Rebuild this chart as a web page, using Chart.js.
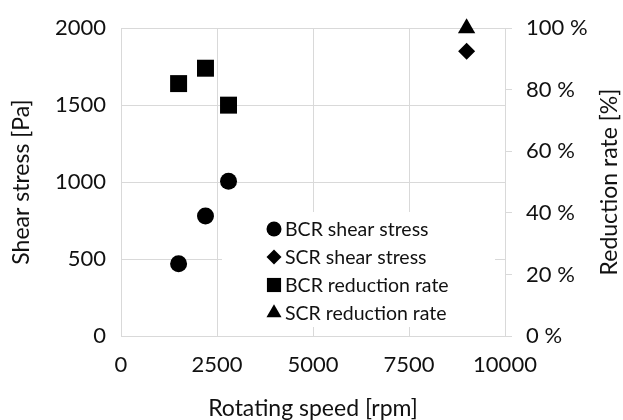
<!DOCTYPE html>
<html>
<head>
<meta charset="utf-8">
<script src="https://cdn.jsdelivr.net/npm/chart.js@4"></script>
<style>
  html, body { margin: 0; padding: 0; background: #fff; }
  #wrap { width: 623px; height: 420px; }
</style>
</head>
<body>
<div id="wrap"><canvas id="myChart" width="623" height="420"></canvas></div>
<script>
// valores
const bcrSpeed = [1500, 2200, 2800];
const bcrShear = [470, 780, 1005];
const bcrReduction = [82, 87, 75];
const scrSpeed = [9000];
const scrShear = [1850];
const scrReduction = [100];
const seriesNames = ['BCR shear stress', 'SCR shear stress', 'BCR reduction rate', 'SCR reduction rate'];
const xTitle = 'Rotating speed [rpm]';
const yTitle = 'Shear stress [Pa]';
const y2Title = 'Reduction rate [%]';

const fuente = 'Lato';
const colorTexto = '#111';
const colorGrilla = '#d9d9d9';

function puntos(xs, ys) {
    return xs.map(function (x, i) { return { x: x, y: ys[i] }; });
}

function sinComa(v) { return String(v); }

// leyenda dentro del area + titulo derecho (leido de abajo hacia arriba)
const leyendaPlugin = {
    id: 'leyendaPlugin',
    afterDatasetsDraw: function (chart) {
        const ctx = chart.ctx;
        ctx.save();
        ctx.fillStyle = '#fff';
        ctx.fillRect(222, 212, 273, 115);

        const marcas = [
            { pointStyle: 'circle', radius: 7.5 },
            { pointStyle: 'rectRot', radius: 7.5 },
            { pointStyle: 'rect', radius: 10 },
            { pointStyle: 'triangle', radius: 8.7 }
        ];
        ctx.font = '19.5px ' + fuente;
        ctx.textBaseline = 'middle';
        ctx.textAlign = 'left';
        seriesNames.forEach(function (nombre, i) {
            const y = 229 + i * 28;
            ctx.fillStyle = '#000';
            Chart.helpers.drawPoint(ctx, { pointStyle: marcas[i].pointStyle, radius: marcas[i].radius, rotation: 0, borderWidth: 0 }, 274, y);
            ctx.fillStyle = colorTexto;
            ctx.fillText(nombre, 285, y + 1);
        });

        const area = chart.chartArea;
        ctx.translate(610, (area.top + area.bottom) / 2);
        ctx.rotate(-Math.PI / 2);
        ctx.textAlign = 'center';
        ctx.font = '23px ' + fuente;
        ctx.fillText(y2Title, 0, 0);
        ctx.restore();
    }
};

const ctx = document.getElementById('myChart');
const myChart = new Chart(ctx, {
    type: 'scatter',
    data: {
        datasets: [{
            label: seriesNames[0],
            data: puntos(bcrSpeed, bcrShear),
            yAxisID: 'y',
            pointStyle: 'circle',
            pointRadius: 8.5
        }, {
            label: seriesNames[1],
            data: puntos(scrSpeed, scrShear),
            yAxisID: 'y',
            pointStyle: 'rectRot',
            pointRadius: 8.5
        }, {
            label: seriesNames[2],
            data: puntos(bcrSpeed, bcrReduction),
            yAxisID: 'y2',
            pointStyle: 'rect',
            pointRadius: 12
        }, {
            label: seriesNames[3],
            data: puntos(scrSpeed, scrReduction),
            yAxisID: 'y2',
            pointStyle: 'triangle',
            pointRadius: 10
        }]
    },
    options: {
        responsive: false,
        animation: false,
        clip: false,
        layout: { padding: { top: 26, left: 0, right: 0, bottom: 0 } },
        elements: {
            point: { backgroundColor: '#000', borderWidth: 0, hoverRadius: 0 }
        },
        plugins: {
            legend: { display: false },
            tooltip: { enabled: false }
        },
        scales: {
            x: {
                type: 'linear',
                min: 0,
                max: 10000,
                ticks: { stepSize: 2500, color: colorTexto, font: { family: fuente, size: 22 }, padding: 16, maxRotation: 0, callback: sinComa },
                grid: { color: colorGrilla, drawTicks: false },
                border: { color: colorGrilla },
                title: { display: true, text: xTitle, color: colorTexto, font: { family: fuente, size: 23 }, padding: { top: 0, bottom: -2 } },
                afterFit: function (scale) { scale.height = 84; }
            },
            y: {
                position: 'left',
                min: 0,
                max: 2000,
                ticks: { stepSize: 500, color: colorTexto, font: { family: fuente, size: 22 }, padding: 15, callback: sinComa },
                grid: { color: colorGrilla, drawTicks: false },
                border: { color: colorGrilla },
                title: { display: true, text: yTitle, color: colorTexto, font: { family: fuente, size: 23 }, padding: { top: 8, bottom: 0 } },
                afterFit: function (scale) { scale.width = 121; }
            },
            y2: {
                position: 'right',
                min: 0,
                max: 100,
                ticks: {
                    stepSize: 20, color: colorTexto, font: { family: fuente, size: 22 }, padding: 14,
                    callback: function (v) { return v + ' %'; }
                },
                grid: { color: colorGrilla, drawOnChartArea: false, drawTicks: true, tickLength: 7 },
                border: { color: colorGrilla },
                afterFit: function (scale) { scale.width = 118; }
            }
        }
    },
    plugins: [leyendaPlugin]
});
</script>
</body>
</html>
